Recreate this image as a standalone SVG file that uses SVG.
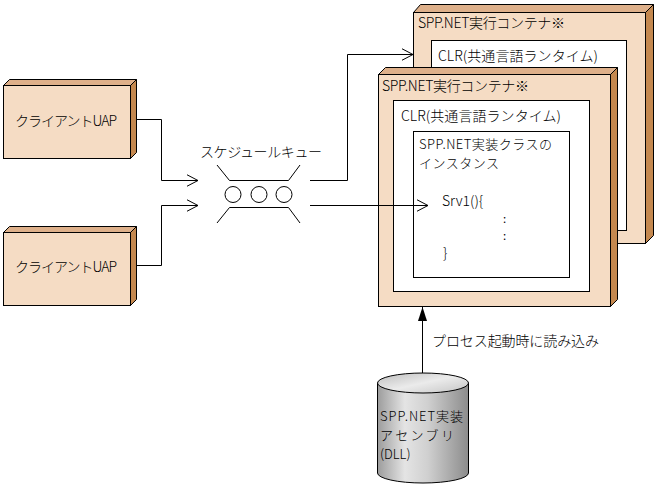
<svg xmlns="http://www.w3.org/2000/svg" width="656" height="491" viewBox="0 0 656 491">
<defs>
<style>
.face{fill:#F5DCC4;stroke:#000;stroke-width:1}
.top{fill:#DEB08A;stroke:#000;stroke-width:1}
.side{fill:#C4884F;stroke:#000;stroke-width:1}
.inner{fill:#fff;stroke:#000;stroke-width:1}
.conn{fill:none;stroke:#000;stroke-width:1}
text{font-family:"Noto Sans CJK JP","Noto Sans",sans-serif;font-size:14px;font-weight:300;fill:#000}
.ml{font-size:13px}
.dot{font-size:11.5px;font-weight:400}
</style>
<marker id="open" viewBox="0 0 12 14" refX="11.5" refY="7" markerWidth="12" markerHeight="14" markerUnits="userSpaceOnUse" orient="auto">
<path d="M0,1 L11.5,7 L0,13" fill="none" stroke="#000" stroke-width="1"/>
</marker>
<marker id="solid" viewBox="0 0 14 10" refX="14" refY="5" markerWidth="14" markerHeight="10" markerUnits="userSpaceOnUse" orient="auto">
<path d="M0,0.5 L14,5 L0,9.5 z" fill="#000"/>
</marker>
<linearGradient id="cylBody" x1="0" y1="0" x2="1" y2="0">
<stop offset="0" stop-color="#9c9c9c"/>
<stop offset="0.3" stop-color="#e4e4e4"/>
<stop offset="0.55" stop-color="#d0d0d0"/>
<stop offset="1" stop-color="#8c8c8c"/>
</linearGradient>
<linearGradient id="cylTop" x1="0" y1="0" x2="1" y2="1">
<stop offset="0" stop-color="#bdbdbd"/>
<stop offset="0.5" stop-color="#ebebeb"/>
<stop offset="1" stop-color="#c4c4c4"/>
</linearGradient>
</defs>

<g id="client1">
<polygon class="top" points="3.5,85.5 9.5,79.5 136.5,79.5 130.5,85.5"/>
<polygon class="side" points="130.5,85.5 136.5,79.5 136.5,152.5 130.5,158.5"/>
<rect class="face" x="3.5" y="85.5" width="127" height="73"/>
<text x="15" y="126" textLength="102">クライアントUAP</text>
</g>

<g id="client2">
<polygon class="top" points="3.5,232.5 9.5,226.5 136.5,226.5 130.5,232.5"/>
<polygon class="side" points="130.5,232.5 136.5,226.5 136.5,299.5 130.5,305.5"/>
<rect class="face" x="3.5" y="232.5" width="127" height="73"/>
<text x="15" y="272" textLength="102">クライアントUAP</text>
</g>

<g id="queue">
<text x="200" y="157" textLength="122">スケジュールキュー</text>
<path class="conn" d="M217,165 L229.5,180.5 H288.5 L300,165"/>
<path class="conn" d="M217,223 L229.5,207.5 H288.5 L300,223"/>
<circle class="conn" cx="233" cy="194.5" r="8"/>
<circle class="conn" cx="259" cy="194.5" r="8"/>
<circle class="conn" cx="284" cy="194.5" r="8"/>
</g>

<g id="container-back">
<polygon class="top" points="413.5,12.5 420.5,4.5 653.5,4.5 645.5,12.5"/>
<polygon class="side" points="645.5,12.5 653.5,4.5 653.5,235.5 645.5,243.5"/>
<rect class="face" x="413.5" y="12.5" width="232" height="231"/>
<text x="418" y="28" textLength="147">SPP.NET実行コンテナ※</text>
<g id="clr-back">
<rect class="inner" x="431.5" y="40.5" width="195" height="190"/>
<text x="438" y="61" textLength="160">CLR(共通言語ランタイム)</text>
</g>
</g>

<g id="container-front">
<polygon class="top" points="378.5,74.5 385.5,67.5 617.5,67.5 610.5,74.5"/>
<polygon class="side" points="610.5,74.5 617.5,67.5 617.5,299.5 610.5,306.5"/>
<rect class="face" x="378.5" y="74.5" width="232" height="232"/>
<text x="382" y="91" textLength="147">SPP.NET実行コンテナ※</text>
<g id="clr-front">
<rect class="inner" x="393.5" y="100.5" width="196" height="191"/>
<text x="401" y="121" textLength="160">CLR(共通言語ランタイム)</text>
</g>
<g id="instance">
<rect class="inner" x="413.5" y="131.5" width="156" height="146"/>
<text class="ml" x="419" y="149" textLength="133">SPP.NET実装クラスの</text>
<text class="ml" x="419" y="168" textLength="80">インスタンス</text>
<text x="442" y="206">Srv1(){</text>
<text class="dot" x="503" y="223">:</text>
<text class="dot" x="503" y="240">:</text>
<text x="443" y="258">}</text>
</g>
</g>

<g id="assembly">
<path d="M377.5,383 V473 A45.5,10 0 0 0 468.5,473 V383 Z" fill="url(#cylBody)" stroke="#000" stroke-width="1"/>
<ellipse cx="423" cy="383" rx="45.5" ry="10" fill="url(#cylTop)" stroke="#000" stroke-width="1"/>
<text class="ml" x="380" y="421" textLength="83">SPP.NET実装</text>
<text class="ml" x="380" y="440" textLength="74">アセンブリ</text>
<text class="ml" x="380" y="459">(DLL)</text>
</g>

<g id="connectors">
<path class="conn" d="M136.5,119.5 H161.5 V180.5 H198" marker-end="url(#open)"/>
<path class="conn" d="M136.5,265.5 H161.5 V205.5 H198" marker-end="url(#open)"/>
<path class="conn" d="M310,180.5 H347.5 V54.5 H413" marker-end="url(#open)"/>
<path class="conn" d="M310,205.5 H428" marker-end="url(#open)"/>
<path class="conn" d="M422.5,373 V307" marker-end="url(#solid)"/>
<text x="432" y="346" textLength="167">プロセス起動時に読み込み</text>
</g>
</svg>
